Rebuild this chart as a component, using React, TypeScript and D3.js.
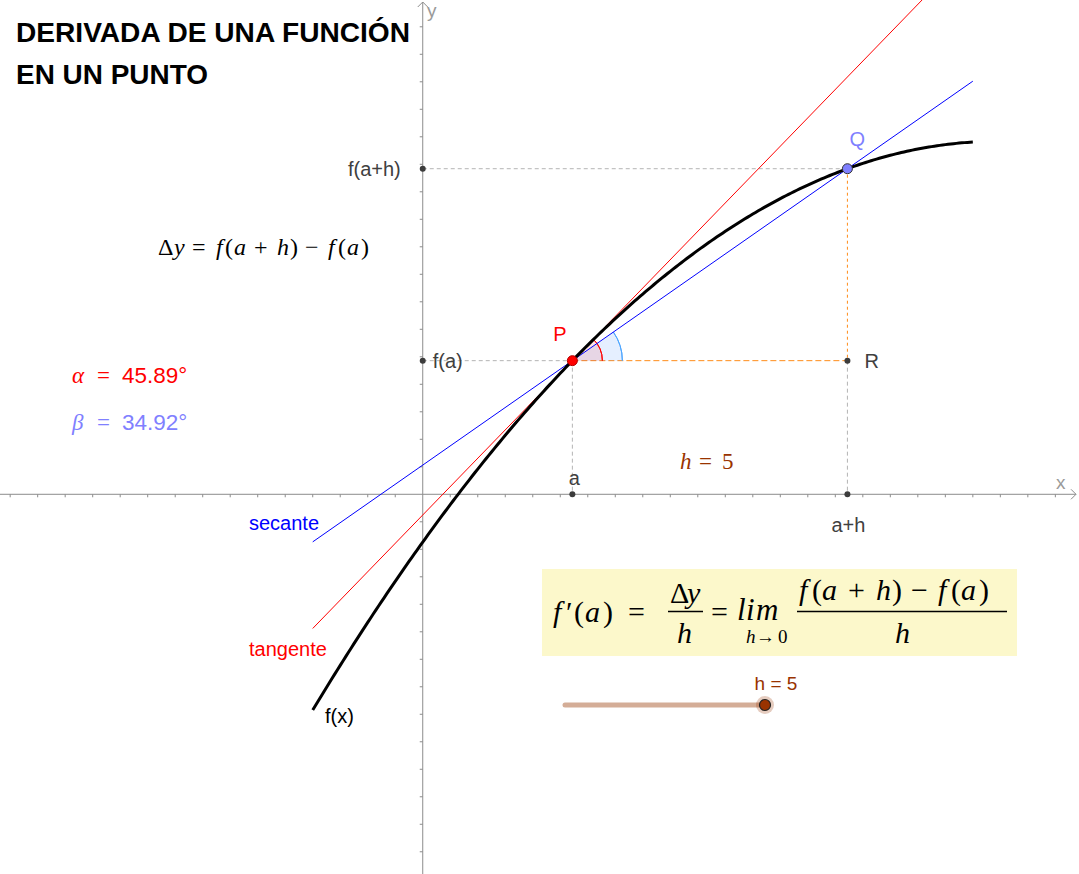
import React from "react";
import * as d3 from "d3";

const W = 1079;
const H = 874;

// view window in math units
const xDomain = [-7.685, 11.93];
const yDomain = [-6.904, 8.987];

// f(x) = c0 + c1 x + c2 x^2
const fCoeffs = [-0.869, 1.394, -1 / 15];
const curveRange = [-2, 10];
const lineRange = [-2, 10];
const aValue = 2.72;
const hValue = 5;
const angleNames = ["α", "β"];
const angleValues = [45.89, 34.92];
const tickStep = 0.5;
const sliderDomain = [0, 5];

const f = (x: number) => fCoeffs[0] + fCoeffs[1] * x + fCoeffs[2] * x * x;

const SERIF = "'Liberation Serif', 'DejaVu Serif', serif";
const SANS = "'Liberation Sans', Arial, sans-serif";

// token: [text, italic, x-offset from start]
type Tok = [string, boolean, number];
const Tokens = ({ toks, x, y, size, fill }: { toks: Tok[]; x: number; y: number; size: number; fill: string }) => (
  <text fontFamily={SERIF} fontSize={size} fill={fill} x={x + toks[0][2]} y={y}>
    {toks.map(([t, it, dx], i) => (
      <tspan key={i} x={x + dx} fontStyle={it ? "italic" : "normal"}>
        {t}
      </tspan>
    ))}
  </text>
);

const deltaTokens: Tok[] = [
  ["Δ", false, 0], ["y", true, 16], ["=", false, 34], ["f", true, 58], ["(", false, 67], ["a", true, 76],
  ["+", false, 96], ["h", true, 119], [")", false, 132], ["−", false, 147], ["f", true, 170], ["(", false, 180],
  ["a", true, 189], [")", false, 203],
];
const numerTokens: Tok[] = [
  ["f", true, 0], ["(", false, 13], ["a", true, 23], ["+", false, 49], ["h", true, 77], [")", false, 93],
  ["−", false, 112], ["f", true, 139], ["(", false, 152], ["a", true, 162], [")", false, 180],
];
const fprimeTokens: Tok[] = [["f", true, 0], ["′", false, 13], ["(", false, 21], ["a", true, 32], [")", false, 50], ["=", false, 75]];
const limTokens: Tok[] = [["l", true, 0], ["i", true, 9], ["m", true, 19]];
const subTokens: Tok[] = [["h", true, 0], ["→", false, 10], ["0", false, 32]];
const hTokens: Tok[] = [["h", true, 0], ["=", false, 19], ["5", false, 42]];

export default function App() {
  const x = d3.scaleLinear().domain(xDomain).range([0, W]);
  const y = d3.scaleLinear().domain(yDomain).range([H, 0]);

  const x0 = x(0);
  const y0 = y(0);

  const xTicks = d3.range(Math.ceil(xDomain[0] / tickStep), Math.floor(11.8 / tickStep) + 1)
    .map((i) => i * tickStep)
    .filter((v) => Math.abs(v) > 1e-9);
  const yTicks = d3.range(Math.ceil(yDomain[0] / tickStep), Math.floor(8.8 / tickStep) + 1)
    .map((i) => i * tickStep)
    .filter((v) => Math.abs(v) > 1e-9);

  const samples = d3.range(curveRange[0], curveRange[1] + 1e-9, 0.05);
  const line = d3.line<number>().x((d) => x(d)).y((d) => y(f(d)));

  const a = aValue;
  const ah = aValue + hValue;
  const fa = f(a);
  const fah = f(ah);
  const tanSlope = Math.tan((angleValues[0] * Math.PI) / 180);
  const secSlope = (fah - fa) / hValue;
  const tanY = (t: number) => fa + tanSlope * (t - a);
  const secY = (t: number) => fa + secSlope * (t - a);

  const P = [x(a), y(fa)];
  const Q = [x(ah), y(fah)];
  const R = [x(ah), y(fa)];

  const angA = (angleValues[0] * Math.PI) / 180;
  const angB = Math.atan(secSlope);
  const mkArc = (ri: number, ro: number, ang: number) =>
    d3.arc()({ innerRadius: ri, outerRadius: ro, startAngle: Math.PI / 2 - ang, endAngle: Math.PI / 2 } as any) as string;

  const sx = d3.scaleLinear().domain(sliderDomain).range([565, 765]);

  const axisColor = "#8c8c8c";
  const grayDash = "#b4b4b4";
  const orange = "#ff8c1a";
  const ptFill = "#3c3c3c";
  const brown = "#993300";
  const labelGray = "#404040";
  const SG = "spacingAndGlyphs";

  const fracBox = { x: 542, y: 569, w: 475, h: 87 };
  const FS = 30;

  return (
    <div style={{ position: "absolute", left: 0, top: 0 }}>
      <svg width={W} height={H} style={{ display: "block", background: "#fff" }}>
        <defs>
          <clipPath id="clip">
            <rect x={0} y={0} width={W} height={H} />
          </clipPath>
        </defs>

        {/* axes */}
        <line x1={0} x2={1076} y1={y0} y2={y0} stroke={axisColor} strokeWidth={1} />
        <polyline points={`${1071},${y0 - 5} ${1076},${y0} ${1071},${y0 + 5}`} fill="none" stroke={axisColor} />
        <line x1={x0} x2={x0} y1={2} y2={H} stroke={axisColor} strokeWidth={1} />
        <polyline points={`${x0 - 5},${7} ${x0},${2} ${x0 + 5},${7}`} fill="none" stroke={axisColor} />
        {xTicks.map((t) => (
          <line key={"xt" + t} x1={x(t)} x2={x(t)} y1={y0} y2={y0 + 3} stroke={axisColor} />
        ))}
        {yTicks.map((t) => (
          <line key={"yt" + t} x1={x0 - 3} x2={x0} y1={y(t)} y2={y(t)} stroke={axisColor} />
        ))}
        <text x={1056} y={489} fontFamily={SANS} fontSize={19} fill="#9a9a9a">x</text>
        <text x={427} y={17} fontFamily={SANS} fontSize={19} fill="#9a9a9a">y</text>

        {/* title */}
        <text x={16} y={42} fontFamily={SANS} fontWeight="bold" fontSize={27} textLength={394} lengthAdjust={SG} fill="#000">DERIVADA DE UNA FUNCIÓN</text>
        <text x={16} y={84} fontFamily={SANS} fontWeight="bold" fontSize={27} textLength={192} lengthAdjust={SG} fill="#000">EN UN PUNTO</text>

        {/* dashed guides */}
        <line x1={x0} x2={Q[0]} y1={Q[1]} y2={Q[1]} stroke={grayDash} strokeDasharray="4,3" />
        <line x1={x0} x2={P[0]} y1={P[1]} y2={P[1]} stroke={grayDash} strokeDasharray="4,3" />
        <line x1={P[0]} x2={P[0]} y1={P[1]} y2={y0} stroke={grayDash} strokeDasharray="4,3" />
        <line x1={R[0]} x2={R[0]} y1={R[1]} y2={y0} stroke={grayDash} strokeDasharray="4,3" />
        <line x1={P[0]} x2={R[0]} y1={P[1]} y2={R[1]} stroke={orange} strokeDasharray="6,3" strokeWidth={1} />
        <line x1={Q[0]} x2={R[0]} y1={Q[1]} y2={R[1]} stroke={orange} strokeDasharray="3,3" strokeWidth={1} />

        {/* angles */}
        <g transform={`translate(${P[0]},${P[1]})`}>
          <path d={mkArc(0, 50, angB)} fill="rgba(0,100,255,0.1)" />
          <path d={mkArc(50, 50, angB)} fill="none" stroke="#4da6ff" strokeWidth={1} />
          <path d={mkArc(0, 30, angA)} fill="rgba(255,0,0,0.1)" />
          <path d={mkArc(30, 30, angA)} fill="none" stroke="#ff0000" strokeWidth={1} />
        </g>

        {/* lines */}
        <g clipPath="url(#clip)">
          <line x1={x(lineRange[0])} y1={y(tanY(lineRange[0]))} x2={x(lineRange[1])} y2={y(tanY(lineRange[1]))} stroke="#ff0000" strokeWidth={1} />
          <line x1={x(lineRange[0])} y1={y(secY(lineRange[0]))} x2={x(lineRange[1])} y2={y(secY(lineRange[1]))} stroke="#0000ff" strokeWidth={1} />
          <path d={line(samples) as string} fill="none" stroke="#000" strokeWidth={3} />
        </g>

        {/* points */}
        <circle cx={x0} cy={Q[1]} r={3} fill={ptFill} />
        <circle cx={x0} cy={P[1]} r={3} fill={ptFill} />
        <circle cx={P[0]} cy={y0} r={3} fill={ptFill} />
        <circle cx={R[0]} cy={y0} r={3} fill={ptFill} />
        <circle cx={R[0]} cy={R[1]} r={3} fill={ptFill} />
        <circle cx={P[0]} cy={P[1]} r={5} fill="#ff0000" stroke="#b00000" strokeWidth={1} />
        <circle cx={Q[0]} cy={Q[1]} r={5} fill="#7f7fff" stroke="#333" strokeWidth={1} />

        {/* point labels */}
        <text x={P[0] - 19} y={P[1] - 20} fontFamily={SANS} fontSize={20} fill="#ff0000">P</text>
        <text x={Q[0] + 2} y={Q[1] - 23} fontFamily={SANS} fontSize={20} fill="#7f7fff">Q</text>
        <text x={R[0] + 17} y={R[1] + 7} fontFamily={SANS} fontSize={20} fill={labelGray}>R</text>
        <text x={x0 - 22} y={Q[1] + 7} textAnchor="end" fontFamily={SANS} fontSize={20} fill={labelGray}>f(a+h)</text>
        <text x={x0 + 10} y={P[1] + 7} fontFamily={SANS} fontSize={20} fill={labelGray}>f(a)</text>
        <text x={P[0] + 2} y={y0 - 9} textAnchor="middle" fontFamily={SANS} fontSize={20} fill={labelGray}>a</text>
        <text x={R[0] + 1} y={y0 + 38} textAnchor="middle" fontFamily={SANS} fontSize={20} fill={labelGray}>a+h</text>

        {/* line labels */}
        <text x={249} y={530} fontFamily={SANS} fontSize={20} fill="#0000ff">secante</text>
        <text x={249} y={656} fontFamily={SANS} fontSize={20} fill="#ff0000">tangente</text>
        <text x={325} y={723} fontFamily={SANS} fontSize={20} fill="#000">f(x)</text>

        {/* Δy formula */}
        <Tokens toks={deltaTokens} x={158} y={255} size={24} fill="#000" />

        {/* angle values */}
        {angleNames.map((nm, i) => (
          <g key={nm} fill={i === 0 ? "#ff0000" : "#8080ff"}>
            <text x={72} y={383 + i * 47} fontFamily={SERIF} fontStyle="italic" fontSize={23}>{nm}</text>
            <text x={97} y={383 + i * 47} fontFamily={SERIF} fontSize={23}>=</text>
            <text x={122} y={383 + i * 47} fontFamily={SANS} fontSize={22.5}>{angleValues[i].toFixed(2)}°</text>
          </g>
        ))}

        {/* h = 5 */}
        <Tokens toks={hTokens} x={680} y={469} size={23} fill={brown} />

        {/* formula box */}
        <rect x={fracBox.x} y={fracBox.y} width={fracBox.w} height={fracBox.h} fill="#fcf8cb" />
        <Tokens toks={fprimeTokens} x={553} y={622} size={FS} fill="#000" />
        <Tokens toks={[["Δ", false, 0], ["y", true, 17]]} x={670} y={603} size={FS} fill="#000" />
        <line x1={668} x2={703} y1={611.5} y2={611.5} stroke="#000" strokeWidth={1.3} />
        <Tokens toks={[["h", true, 0]]} x={677} y={643} size={FS} fill="#000" />
        <Tokens toks={[["=", false, 0]]} x={711} y={622} size={FS} fill="#000" />
        <Tokens toks={limTokens} x={737} y={620} size={31} fill="#000" />
        <Tokens toks={subTokens} x={746} y={643} size={19} fill="#000" />
        <Tokens toks={numerTokens} x={799} y={600} size={FS} fill="#000" />
        <line x1={797} x2={1007} y1={611.5} y2={611.5} stroke="#000" strokeWidth={1.3} />
        <Tokens toks={[["h", true, 0]]} x={895} y={643} size={FS} fill="#000" />

        {/* slider */}
        <line x1={sx(sliderDomain[0])} x2={sx(sliderDomain[1])} y1={705} y2={705} stroke="#d4ad97" strokeWidth={5} strokeLinecap="round" />
        <circle cx={sx(hValue)} cy={705} r={9} fill="rgba(153,51,0,0.25)" />
        <circle cx={sx(hValue)} cy={705} r={5.5} fill={brown} stroke="#222" strokeWidth={1.2} />
        <text x={sx(hValue) + 11} y={690} textAnchor="middle" fontFamily={SANS} fontSize={19} fill={brown}>h = {hValue}</text>
      </svg>
    </div>
  );
}
